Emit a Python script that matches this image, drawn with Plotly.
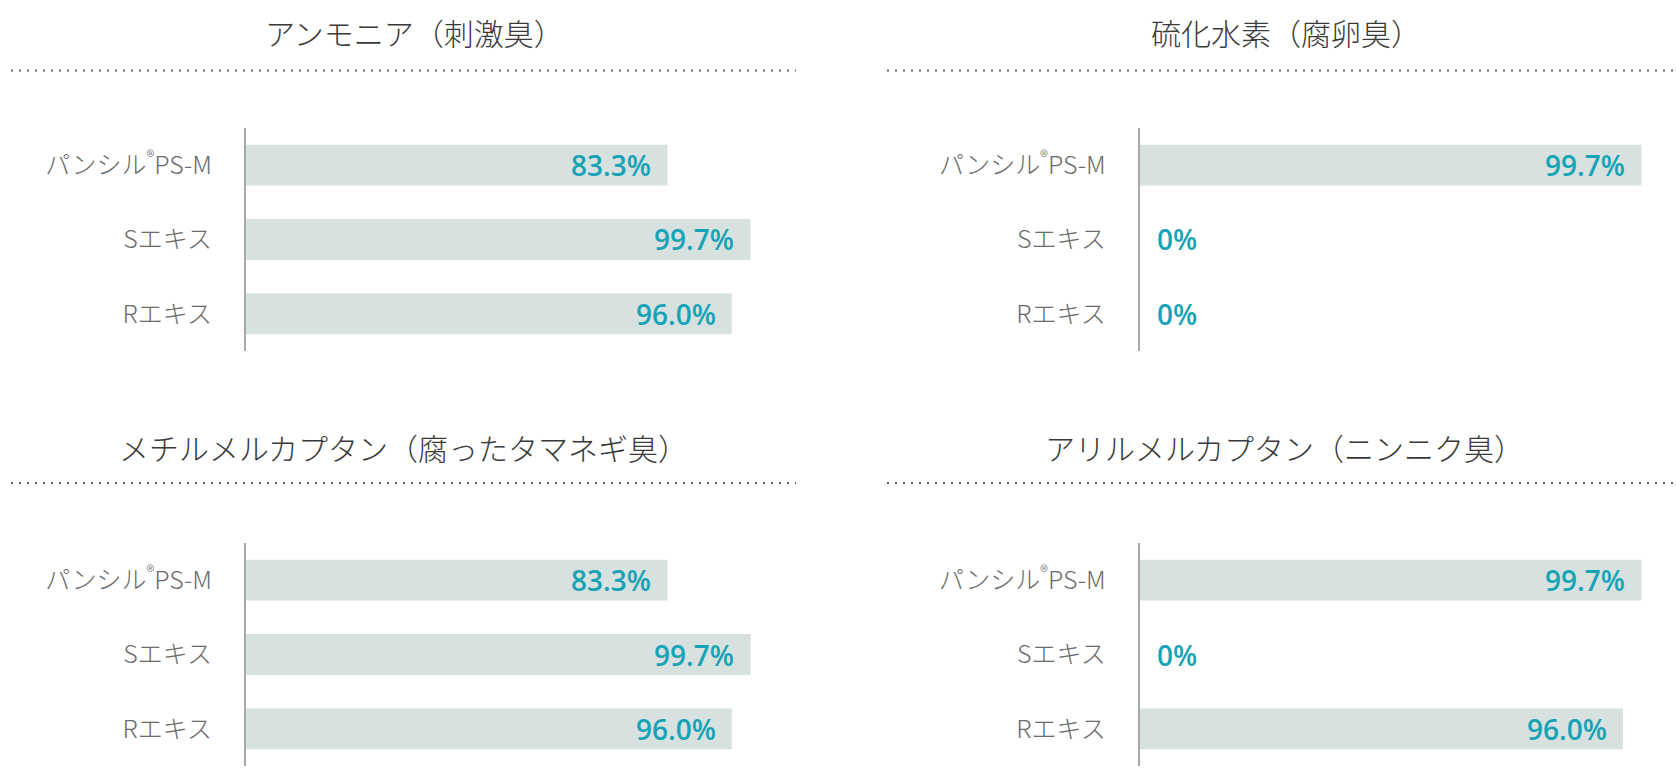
import plotly.graph_objects as go

# ---- data ----
categories = ["パンシル®PS-M", "Sエキス", "Rエキス"]
category_labels = [
    "パンシル<sup><span style='font-size:17px'>®</span></sup>PS-M",
    "Sエキス",
    "Rエキス",
]
titles = [
    "アンモニア（刺激臭）",
    "硫化水素（腐卵臭）",
    "メチルメルカプタン（腐ったタマネギ臭）",
    "アリルメルカプタン（ニンニク臭）",
]
ammonia = [83.3, 99.7, 96.0]
hydrogen_sulfide = [99.7, 0.0, 0.0]
methyl_mercaptan = [83.3, 99.7, 96.0]
allyl_mercaptan = [99.7, 0.0, 96.0]
series = [ammonia, hydrogen_sulfide, methyl_mercaptan, allyl_mercaptan]

# ---- layout geometry (pixels) ----
W, H = 1676, 784
BAR_COLOR = "#d6e1e0"
TEXT_TEAL = "#17a3b6"
LABEL_GRAY = "#6b6b6b"
TITLE_COLOR = "#3a3a3a"
JP_FONT = "Noto Sans CJK JP"
NUM_FONT = "Open Sans"

# (axis_x_px, x100_px, axis_top_px, axis_bottom_px, title_cx_px, title_cy_px, dot_x0, dot_x1, dot_y)
panels = [
    (245.8, 752.0, 128, 351, 414, 32, 11, 796, 70.5),
    (1139.5, 1643.0, 128, 351, 1286, 32, 887, 1676, 70.5),
    (245.8, 752.0, 543, 766, 403, 447, 11, 796, 483),
    (1139.5, 1643.0, 543, 766, 1284, 447, 887, 1676, 483),
]

fig = go.Figure()
annotations = []
shapes = []
layout_axes = {}

for i, (vals, title, p) in enumerate(zip(series, titles, panels)):
    ax0, ax100, top, bot, tcx, tcy, dx0, dx1, dy = p
    n = "" if i == 0 else str(i + 1)
    xa, ya = "x" + n, "y" + n
    fig.add_trace(go.Bar(
        x=vals, y=category_labels, orientation="h",
        marker=dict(color=BAR_COLOR, line=dict(width=0)),
        xaxis=xa, yaxis=ya, hoverinfo="skip", showlegend=False,
    ))
    layout_axes["xaxis" + n] = dict(
        domain=[ax0 / W, ax100 / W], range=[0, 100], visible=False,
        anchor=ya, fixedrange=True,
    )
    layout_axes["yaxis" + n] = dict(
        domain=[1 - bot / H, 1 - top / H], anchor=xa,
        type="category", categoryorder="array", categoryarray=category_labels,
        range=[2.5, -0.5],
        showline=True, linecolor="#a8a8a8", linewidth=1.5,
        showgrid=False, zeroline=False, ticks="",
        ticklabelstandoff=27,
        tickfont=dict(family=JP_FONT, size=25, color=LABEL_GRAY, weight=300),
        fixedrange=True,
    )
    for cat, v in zip(category_labels, vals):
        txt = f"{v:.1f}%" if v > 0 else "0%"
        if v > 0:
            annotations.append(dict(
                x=v, y=cat, xref=xa, yref=ya, text=txt, showarrow=False,
                xanchor="right", yanchor="middle", xshift=-14,
                font=dict(family=NUM_FONT, size=28, color=TEXT_TEAL, weight=600),
            ))
        else:
            annotations.append(dict(
                x=v, y=cat, xref=xa, yref=ya, text=txt, showarrow=False,
                xanchor="left", yanchor="middle", xshift=15,
                font=dict(family=NUM_FONT, size=28, color=TEXT_TEAL, weight=600),
            ))
    annotations.append(dict(
        x=tcx / W, y=1 - tcy / H, xref="paper", yref="paper", text=title,
        showarrow=False, xanchor="center", yanchor="middle",
        font=dict(family=JP_FONT, size=30, color=TITLE_COLOR, weight=300),
    ))
    shapes.append(dict(
        type="line", xref="paper", yref="paper",
        x0=dx0 / W, x1=dx1 / W, y0=1 - dy / H, y1=1 - dy / H,
        line=dict(color="#606060", width=2, dash="2px,6px"),
    ))

fig.update_layout(
    width=W, height=H, margin=dict(l=0, r=0, t=0, b=0),
    paper_bgcolor="white", plot_bgcolor="white",
    bargap=0.45, showlegend=False,
    annotations=annotations, shapes=shapes,
    **layout_axes,
)

fig.write_html(
    "out.html",
    config={"displayModeBar": False},
    post_script="document.body.style.margin='0';document.body.style.overflow='hidden';",
)
